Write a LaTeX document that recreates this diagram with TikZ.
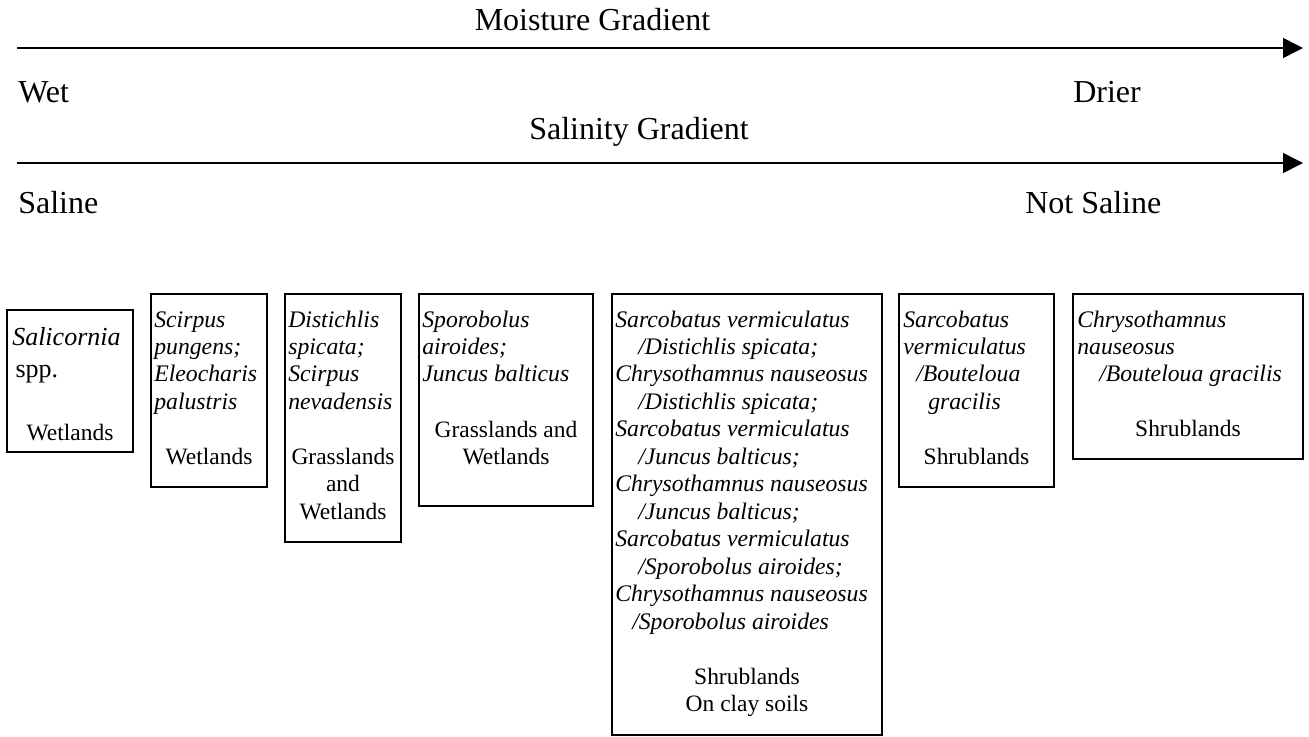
\documentclass[tikz,border=0pt]{standalone}
\usepackage{fontspec}
\setmainfont{Liberation Serif}
\usetikzlibrary{arrows.meta,fit}
\newcommand{\rows}[1]{\begin{tabular}[t]{@{}l@{}}#1\end{tabular}}
\newcommand{\crows}[1]{\begin{tabular}[t]{@{}c@{}}#1\end{tabular}}
\newcommand{\ind}[1]{\hspace*{#1pt}}
\begin{document}
\begin{tikzpicture}[x=0.75pt,y=-0.75pt,
  box/.style={draw, line width=1.1pt, inner sep=0pt},
  grad/.style={line width=1.1pt, -{Triangle[length=15pt,width=15pt]}},
  big/.style={font=\fontsize{24}{28}\selectfont, inner sep=0pt, anchor=base west},
  bigc/.style={font=\fontsize{24}{28}\selectfont, inner sep=0pt, anchor=base},
  sp/.style={font=\fontsize{17.8}{20.6}\selectfont\itshape, inner sep=0pt, anchor=base west},
  lab/.style={font=\fontsize{17.6}{20.6}\selectfont, inner sep=0pt, anchor=base},
]
\useasboundingbox (0,0) rectangle (1309,736);

% gradients
\coordinate (m0) at (17,48);
\coordinate (m1) at (1303,48);
\coordinate (s0) at (17,163);
\coordinate (s1) at (1303,163);
\draw[grad] (m0) -- (m1);
\draw[grad] (s0) -- (s1);
\node[bigc] (tmoist) at (592.5,30) {Moisture Gradient};
\node[bigc] (tsal) at (639,139) {Salinity Gradient};
\node[big] (twet) at (18,102) {Wet};
\node[big] (tdrier) at (1073,102) {Drier};
\node[big] (tsaline) at (18,213) {Saline};
\node[big] (tnots) at (1025,213) {Not Saline};

% boxes
\node[box, fit={(7,310) (133,452)}] (b1) {};
\node[box, fit={(151,294) (267,487)}] (b2) {};
\node[box, fit={(285,294) (401,542)}] (b3) {};
\node[box, fit={(419,294) (593,506)}] (b4) {};
\node[box, fit={(612,294) (882,735)}] (b5) {};
\node[box, fit={(899,294) (1054,487)}] (b6) {};
\node[box, fit={(1073,294) (1303,459)}] (b7) {};

% box 1
\node[inner sep=0pt, anchor=base west, font=\fontsize{19.5}{24}\selectfont] (t1) at (12,345)
  {\rows{\textit{Salicornia}\\ \ind{2.5}spp.}};
\node[lab] (l1) at (b1.center |- 0,440) {Wetlands};

% box 2
\node[sp] (t2) at (154,327) {\rows{Scirpus\\ pungens;\\ Eleocharis\\ palustris}};
\node[lab] (l2) at (b2.center |- 0,464.5) {Wetlands};

% box 3
\node[sp] (t3) at (288,327) {\rows{Distichlis\\ spicata;\\ Scirpus\\ nevadensis}};
\node[lab] (l3) at (b3.center |- 0,464.5) {\crows{Grasslands\\ and\\ Wetlands}};

% box 4
\node[sp] (t4) at (422,327) {\rows{Sporobolus\\ airoides;\\ Juncus balticus}};
\node[lab] (l4) at (b4.center |- 0,437) {\crows{Grasslands and\\ Wetlands}};

% box 5
\node[sp] (t5) at (615,327) {\rows{Sarcobatus vermiculatus\\
  \ind{17.25}/Distichlis spicata;\\
  Chrysothamnus nauseosus\\
  \ind{17.25}/Distichlis spicata;\\
  Sarcobatus vermiculatus\\
  \ind{17.25}/Juncus balticus;\\
  Chrysothamnus nauseosus\\
  \ind{17.25}/Juncus balticus;\\
  Sarcobatus vermiculatus\\
  \ind{17.25}/Sporobolus airoides;\\
  Chrysothamnus nauseosus\\
  \ind{12.75}/Sporobolus airoides}};
\node[lab] (l5) at (b5.center |- 0,684.5) {\crows{Shrublands\\ On clay soils}};

% box 6
\node[sp] (t6) at (903,327) {\rows{Sarcobatus\\ vermiculatus\\ \ind{9.75}/Bouteloua\\ \ind{18.75}gracilis}};
\node[lab] (l6) at (b6.center |- 0,464.5) {Shrublands};

% box 7
\node[sp] (t7) at (1077,327) {\rows{Chrysothamnus\\ nauseosus\\ \ind{16.5}/Bouteloua gracilis}};
\node[lab] (l7) at (b7.center |- 0,436.5) {Shrublands};
\end{tikzpicture}
\end{document}
